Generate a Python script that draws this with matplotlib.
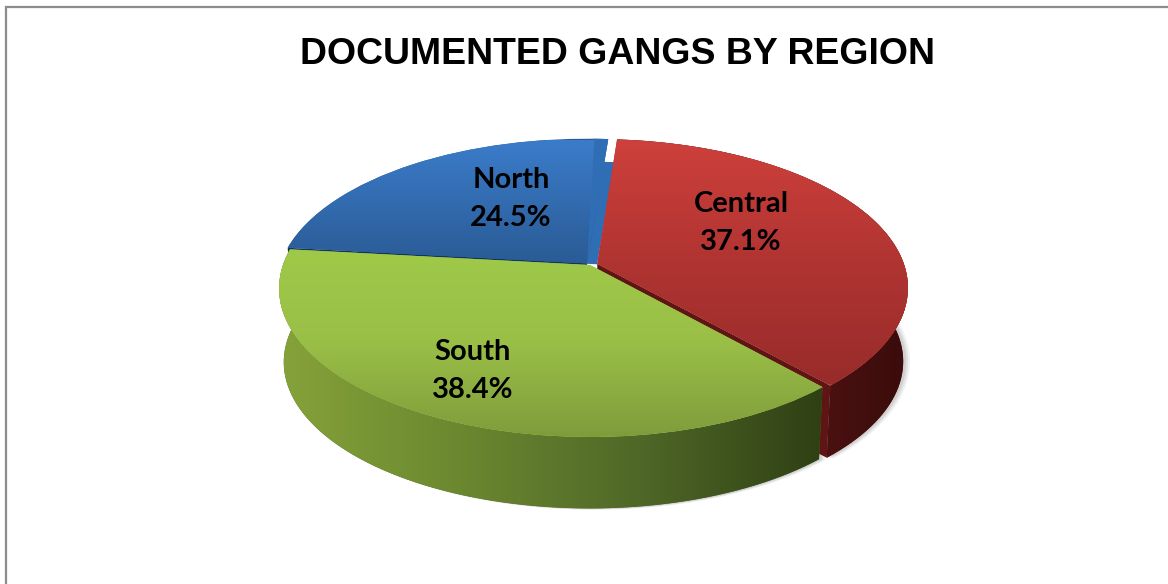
import numpy as np
import matplotlib
matplotlib.use('Agg')
import matplotlib.pyplot as plt
from matplotlib.colors import LinearSegmentedColormap
from matplotlib.patches import Polygon, Wedge
from matplotlib.transforms import Transform

# Data
regions = ['Central', 'South', 'North']
shares = [37.1, 38.4, 24.5]
explode = [0.025, 0.0, 0.015]

W, H = 1168, 584
DEPTH = 74
x0, y0 = 590, 265      # pie centre on the picture
a, b, k = 144.8, 307, 0.158


class Persp(Transform):
    # tilts the flat pie into a 3D looking ellipse, output is in pixels
    input_dims = 2
    output_dims = 2
    is_separable = False

    def __init__(self, dx=0, dy=0, s=1.0):
        super().__init__()
        self.dx, self.dy, self.s = dx, dy, s

    def transform_non_affine(self, values):
        v = np.asarray(values, dtype=float)
        w = 1 + k * v[:, 1]
        return np.column_stack([x0 + self.dx + self.s * b * v[:, 0] / w,
                                y0 + self.dy - self.s * a * v[:, 1] / w])


top = Persp()
low = Persp(dx=0, dy=DEPTH, s=0.985)

fig = plt.figure(figsize=(W / 100, H / 100), dpi=100)
ax = fig.add_axes([0, 0, 1, 1])
wedges, _ = ax.pie(shares, explode=explode, startangle=85.5, counterclock=False)
central, south, north = wedges

z = [10]


def shade(patch, colors, extent, horizontal=False):
    # gradient image clipped to the patch
    z[0] += 1
    patch.set_zorder(z[0])
    patch.set_facecolor(colors[len(colors) // 2])
    patch.set_edgecolor('none')
    z[0] += 1
    grad = np.linspace(0, 1, 256)
    grad = grad[None, :] if horizontal else grad[:, None]
    cmap = LinearSegmentedColormap.from_list('g', colors)
    im = ax.imshow(grad, cmap=cmap, extent=extent, aspect='auto', origin='upper',
                   interpolation='bilinear', zorder=z[0])
    im.set_clip_path(patch)


def rim(w, tr):
    t = np.radians(np.linspace(w.theta1, w.theta2, 80))
    pts = np.column_stack([w.center[0] + w.r * np.cos(t), w.center[1] + w.r * np.sin(t)])
    return tr.transform_non_affine(pts)


def wall(w, colors, extent, horizontal=True):
    pts = np.vstack([rim(w, top), rim(w, low)[::-1]])
    p = Polygon(pts, closed=True)
    ax.add_patch(p)
    shade(p, colors, extent, horizontal)


def cut(w, angle, color):
    c = np.array([[w.center[0], w.center[1]]])
    e = np.array([[w.center[0] + w.r * np.cos(np.radians(angle)),
                   w.center[1] + w.r * np.sin(np.radians(angle))]])
    pts = np.vstack([top.transform_non_affine(c), top.transform_non_affine(e),
                     low.transform_non_affine(e), low.transform_non_affine(c)])
    z[0] += 1
    ax.add_patch(Polygon(pts, closed=True, facecolor=color, edgecolor='none', zorder=z[0]))


def soft_shadow(w):
    for i, alpha in zip([7, 5, 3], [0.10, 0.14, 0.2]):
        pts = rim(w, Persp(dx=i * 0.6, dy=DEPTH, s=0.985 + i * 0.0012))
        pts = np.vstack([rim(w, top), pts[::-1]])
        ax.add_patch(Polygon(pts, closed=True, facecolor='#888888', edgecolor='none',
                             alpha=alpha, zorder=5))


soft_shadow(central)
soft_shadow(south)

# North, at the back, with its lighter cut face on the right
ax.add_patch(Wedge(north.center, north.r * 0.8, north.theta1, north.theta2, facecolor='#2f6eb4',
                   edgecolor='none', zorder=8, transform=Persp(dx=10, dy=1) + ax.transData))
cut(north, north.theta2, '#13365f')
north.set_transform(top + ax.transData)
shade(north, ['#3b7cca', '#2a5b95'], (270, 660, 264, 140))
z[0] += 1
ax.add_patch(Wedge(north.center, north.r, north.theta1, north.theta1 + 3, facecolor='#2f6eb4',
                   edgecolor='none', zorder=z[0], transform=top + ax.transData))

# Central
cut(central, central.theta1, '#5e1513')
wall(central, ['#5a1312', '#471010', '#3a0c0b'], (780, 905, 460, 280))
central.set_transform(top + ax.transData)
shade(central, ['#ce403b', '#b03432', '#982c2a'], (590, 910, 384, 140))

# South, in front
wall(south, ['#85a23a', '#6b8830', '#4f6727', '#2f4014'], (280, 822, 510, 240))
south.set_transform(top + ax.transData)
shade(south, ['#9fca49', '#9abf47', '#7f9c3b'], (270, 830, 438, 245))

# Labels
for name, val, (tx, ty) in zip(regions, shares, [(741, 223), (473, 371), (511, 199)]):
    ax.text(tx, ty, '%s\n%.1f%%' % (name, val), ha='center', va='center', family='Lato',
            fontweight='bold', fontsize=21, color='black', linespacing=1.6, zorder=50)

ax.text(617, 55, 'DOCUMENTED GANGS BY REGION', ha='center', va='center',
        family='Liberation Sans', fontweight='bold', fontsize=26.9, color='black', zorder=50)

# Chart frame, only left and top show
ax.plot([5.5, 5.5, W], [H, 7, 7], color='#8c8c8c', lw=1.6, zorder=60, solid_joinstyle='miter')

ax.set_xlim(0, W)
ax.set_ylim(H, 0)
ax.set_aspect('auto')
ax.axis('off')
fig.savefig('out.png', dpi=100)
